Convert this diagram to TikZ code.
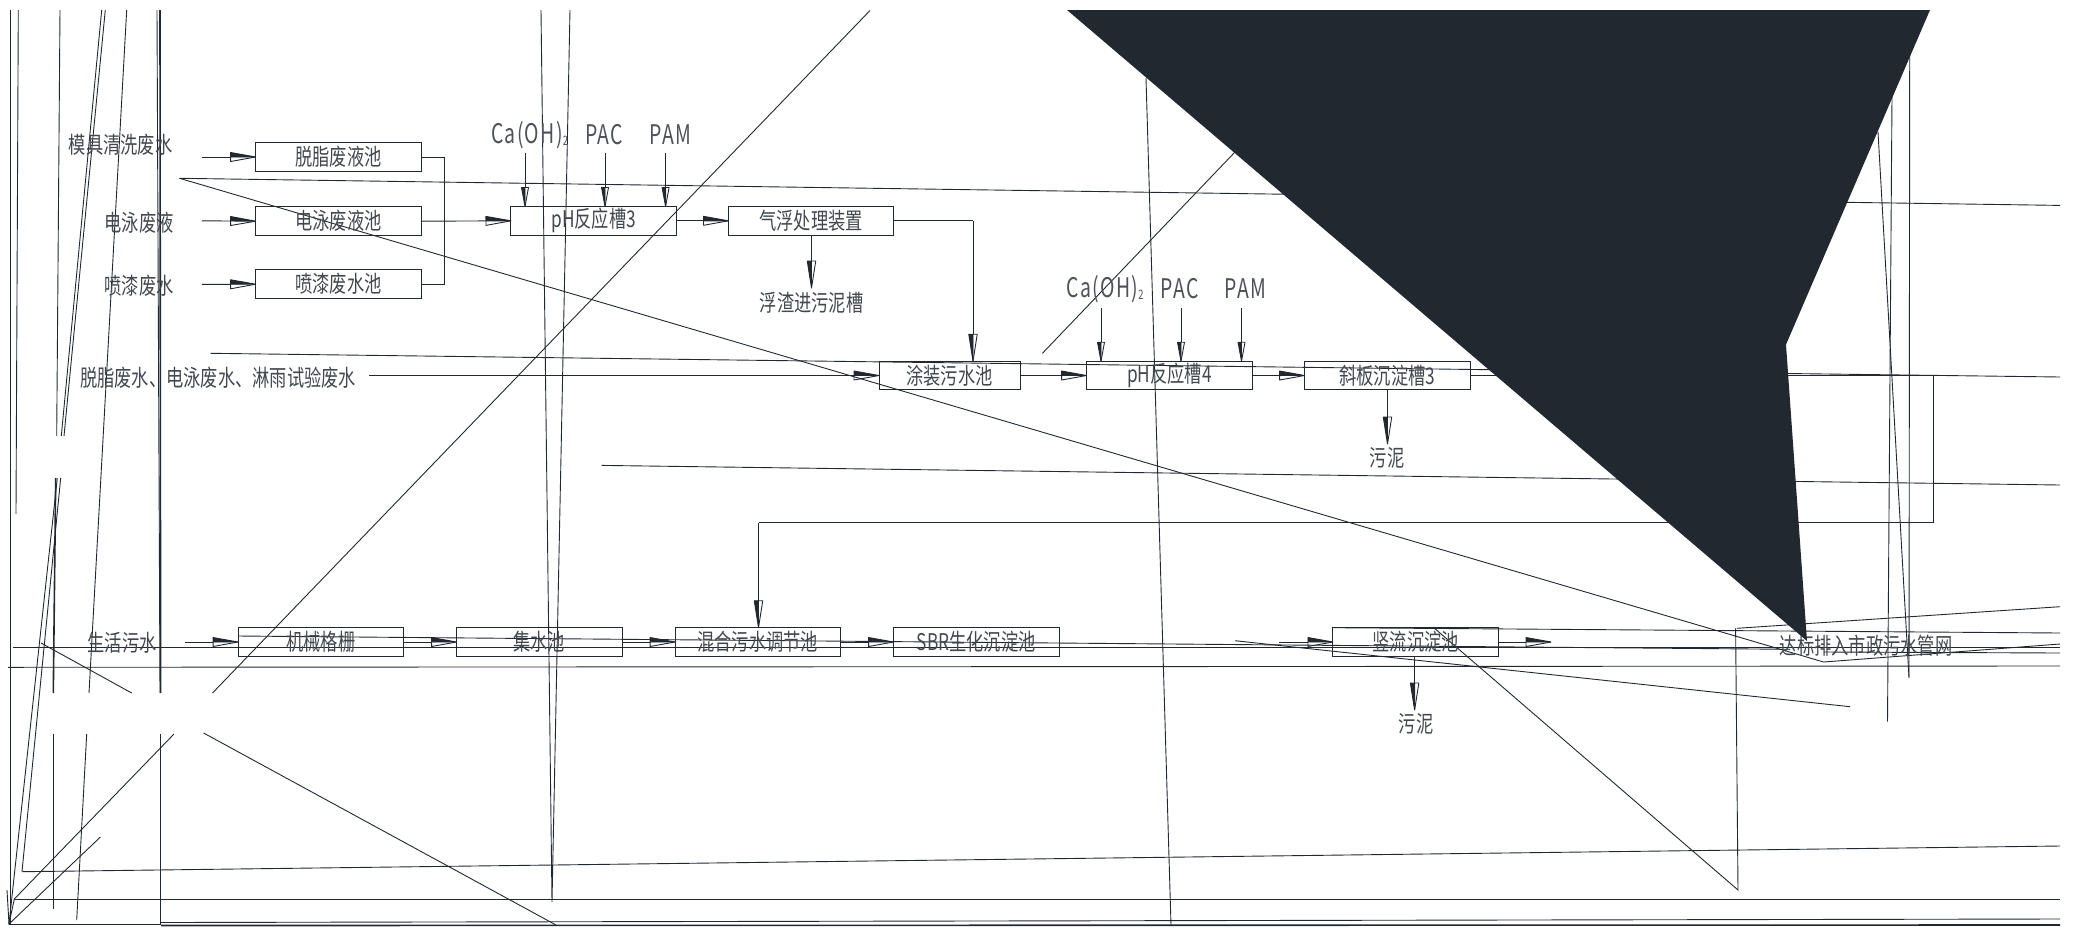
\documentclass[tikz,border=0pt]{standalone}
\usepackage{fontspec}
\setmainfont[FakeStretch=0.75]{Noto Sans CJK SC}
\newfontfamily\chemfont[FakeStretch=0.72,LetterSpace=5]{Noto Sans CJK SC}
\usetikzlibrary{arrows.meta,positioning}
\definecolor{inkdark}{RGB}{33,40,48}
\pgfdeclarearrow{
  name=HalfBarb,
  defaults={length=25pt,width=9pt,line width=.8pt},
  setup code={
    \pgfarrowssettipend{0pt}
    \pgfarrowssetbackend{-\pgfarrowlength}
    \pgfarrowssetlineend{-\pgfarrowlength}
    \pgfarrowshullpoint{0pt}{0pt}
    \pgfarrowsupperhullpoint{-\pgfarrowlength}{.5\pgfarrowwidth}
    \pgfarrowssavethe\pgfarrowlength
    \pgfarrowssavethe\pgfarrowwidth
  },
  drawing code={
    \pgfsetdash{}{0pt}
    \pgfsetroundjoin
    \pgfpathmoveto{\pgfqpoint{0pt}{0pt}}
    \pgfpathlineto{\pgfqpoint{-\pgfarrowlength}{.5\pgfarrowwidth}}
    \pgfpathlineto{\pgfqpoint{-\pgfarrowlength}{0pt}}
    \pgfpathclose
    \pgfusepathqfillstroke
    \pgfpathmoveto{\pgfqpoint{-\pgfarrowlength}{0pt}}
    \pgfpathlineto{\pgfqpoint{-\pgfarrowlength}{-.5\pgfarrowwidth}}
    \pgfpathlineto{\pgfqpoint{0pt}{0pt}}
    \pgfusepathqstroke
  },
  parameters={\the\pgfarrowlength,\the\pgfarrowwidth},
}
\tikzset{
  tankbox/.style={draw=inkdark, line width=1pt, minimum width=165.5pt, minimum height=28.6pt,
    inner sep=0pt, outer sep=0pt, align=center, font=\fontsize{23}{23}\selectfont, text=inkdark!85},
  label/.style={inner sep=0pt, font=\fontsize{23}{23}\selectfont, text=inkdark!85},
  chem/.style={inner sep=0pt, font=\chemfont\fontsize{27}{27}\selectfont, text=inkdark!80},
  pipe/.style={draw=inkdark, line width=.9pt},
  flow/.style={pipe, -{HalfBarb[length=25pt,width=9pt]}},
  dropflow/.style={pipe, -{HalfBarb[length=27pt,width=8.5pt,swap]}},
  chemflow/.style={pipe, -{HalfBarb[length=19pt,width=7pt,swap]}},
  stray/.style={draw=inkdark, line width=.9pt}
}
\newcommand{\chemsub}{\raisebox{-2pt}{\fontsize{13}{13}\selectfont 2}}
\begin{document}
\begin{tikzpicture}[x=1pt,y=-1pt]
\useasboundingbox (0,0) rectangle (2073,927);

% stray lines, left side
\draw[stray] (10.5,10)--(10.5,925);
\draw[stray] (18.3,10)--(16,514);
\draw[stray] (60,10)--(56.7,436);
\draw[stray,line width=1.6pt] (55.7,478)--(53.3,693);
\draw[stray] (53.3,734)--(53.3,909);
\draw[stray] (101.7,10)--(61.3,436);
\draw[stray] (105.3,10)--(64,436);
\draw[stray] (57.3,478)--(9,924);
\draw[stray] (60.7,478)--(22,871.7);
\draw[stray] (126.7,10)--(89,693);
\draw[stray] (86.7,734)--(76.7,920);
\draw[stray,line width=1.6pt] (160,10)--(160.6,693);
\draw[stray] (157,10)--(160,693);
\draw[stray,line width=1.6pt] (160.6,734)--(160.6,925);
\draw[stray] (870,10.5)--(212.5,693);
\draw[stray] (174,734)--(14.3,899)--(9,924);
\draw[stray] (100.4,837)--(9,924)--(7,890);
\draw[stray] (41,643)--(131.7,693);
\draw[stray] (203.6,733)--(556,925);
% stray lines, long ones
\draw[stray] (22,871.7)--(2060,846);
\draw[stray] (14,899.5)--(2060,899.5);
\draw[stray] (9,924.5)--(160,924.5);
\draw[stray,line width=1.6pt] (161,925.5)--(2060,925);
\draw[stray] (161,922.5)--(2060,919);
\draw[stray] (13.4,647)--(2060,647);
\draw[stray] (8,667.3)--(2060,666);
\draw[stray] (238,636)--(1790,649.3);
\draw[stray] (1333,627.7)--(2060,633);
\draw[stray] (1823.6,652)--(2060,653);
\draw[stray] (179.5,178.3)--(2060,205.4);
\draw[stray] (179.5,178.3)--(1823.6,662)--(2060,644);
\draw[stray] (210.7,353.3)--(2060,377);
\draw[stray] (601.5,465.4)--(2060,485);
\draw[stray] (1042.4,353.3)--(1235,152);
\draw[stray] (1146,78)--(1171,925);
\draw[stray] (541,10)--(552,902)--(570,10);
% stray lines, right side
\draw[stray] (1737,628.3)--(2060,606.7);
\draw[stray] (1735.6,628.3)--(1738,890)--(1433,627);
\draw[stray] (1235,640.7)--(1850,706.7);
\draw[stray] (1892,96)--(1887.5,721.7);
\draw[stray] (1909.7,53)--(1909,677.7);
\draw[stray] (1878,132)--(1909,677.7);

% top row
\node[tankbox] (degrease) at (338.4,157) {脱脂废液池};
\node[tankbox, below=35.6pt of degrease] (electro) {电泳废液池};
\node[tankbox, below=34.4pt of electro] (paint) {喷漆废水池};
\node[tankbox] (ph3) at (593.7,220.8) {pH反应槽3};
\node[tankbox, right=52pt of ph3] (float) {气浮处理装置};

% middle row
\node[tankbox, minimum width=141pt] (coat) at (949.5,375.5) {涂装污水池};
\node[tankbox] (ph4) at (1169.3,375.5) {pH反应槽4};
\node[tankbox, right=52.5pt of ph4] (slant) {斜板沉淀槽3};

% bottom row
\node[tankbox] (grid) at (320.8,642) {机械格栅};
\node[tankbox, right=53pt of grid] (sump) {集水池};
\node[tankbox, right=53pt of sump] (mix) {混合污水调节池};
\node[tankbox, right=53pt of mix] (sbr) {SBR生化沉淀池};
\node[tankbox] (settle) at (1415.7,642) {竖流沉淀池};

% labels
\node[label] (mold) at (120.5,144.3) {模具清洗废水};
\node[label] (elwaste) at (139,222.7) {电泳废液};
\node[label] (ptwaste) at (139,286) {喷漆废水};
\node[label] (mixwaste) at (218,377.7) {脱脂废水、电泳废水、淋雨试验废水};
\node[label] (domestic) at (122,643) {生活污水};
\node[label] (scum) at (811.5,303) {浮渣进污泥槽};
\node[label] (sludgea) at (1387,457.5) {污泥};
\node[label] (sludgeb) at (1416,724) {污泥};
\node[label] (outlet) at (1866,645.7) {达标排入市政污水管网};
\node[chem] (caa) at (529.5,135) {Ca(OH)\chemsub};
\node[chem] (paca) at (604,135) {PAC};
\node[chem] (pama) at (670.5,135) {PAM};
\node[chem] (cab) at (1105,289) {Ca(OH)\chemsub};
\node[chem] (pacb) at (1179.5,289) {PAC};
\node[chem] (pamb) at (1245.5,289) {PAM};

% free ends
\coordinate (degin) at (201.8,157);
\coordinate (elin) at (201.8,220.8);
\coordinate (ptin) at (201.8,284.4);
\coordinate (coatin) at (369,375.5);
\coordinate (gridin) at (185,642);
\coordinate (settlein) at (1279,642);
\coordinate (settleout) at (1551,642);
\coordinate (caain) at (525,152.7);
\coordinate (pacain) at (605,152.7);
\coordinate (pamain) at (665.6,152.7);
\coordinate (cabin) at (1101,307.7);
\coordinate (pacbin) at (1181,307.7);
\coordinate (pambin) at (1241.5,307.7);
\coordinate (scumout) at (811.5,288);
\coordinate (sludgeaout) at (1387.5,444);
\coordinate (sludgebout) at (1414.6,710);
\coordinate (loopa) at (1933,375.5);
\coordinate (loopb) at (758.5,522.5);
\coordinate (coatdrop) at (973,220.8);

\draw[flow] (degin)--(degrease.west);
\draw[flow] (elin)--(electro.west);
\draw[flow] (ptin)--(paint.west);
\draw[pipe] (degrease.east)--++(23.2,0)|-(paint.east);
\draw[flow] (electro.east)--(ph3.west);
\draw[flow] (ph3.east)--(float.west);
\draw[chemflow] (caain)--(caain |- ph3.north);
\draw[chemflow] (pacain)--(pacain |- ph3.north);
\draw[chemflow] (pamain)--(pamain |- ph3.north);
\draw[dropflow] (scumout |- float.south)--(scumout);
\draw[pipe] (float.east)--(coatdrop);
\draw[dropflow] (coatdrop)--(coatdrop |- coat.north);
\draw[flow] (coatin)--(coat.west);
\draw[flow] (coat.east)--(ph4.west);
\draw[flow] (ph4.east)--(slant.west);
\draw[chemflow] (cabin)--(cabin |- ph4.north);
\draw[chemflow] (pacbin)--(pacbin |- ph4.north);
\draw[chemflow] (pambin)--(pambin |- ph4.north);
\draw[dropflow] (sludgeaout |- slant.south)--(sludgeaout);
\draw[pipe] (slant.east)--(loopa)--(loopa |- loopb)--(loopb);
\draw[dropflow] (loopb)--(loopb |- mix.north);
\draw[flow] (gridin)--(grid.west);
\draw[flow] (grid.east)--(sump.west);
\draw[flow] (sump.east)--(mix.west);
\draw[flow] (mix.east)--(sbr.west);
\draw[flow] (settlein)--(settle.west);
\draw[flow] (settle.east)--(settleout);
\draw[dropflow] (sludgebout |- settle.south)--(sludgebout);

% solid wedge on top
\fill[inkdark] (1067,10)--(1930,10)--(1786,344.6)--(1807,641)--cycle;
\end{tikzpicture}
\end{document}
